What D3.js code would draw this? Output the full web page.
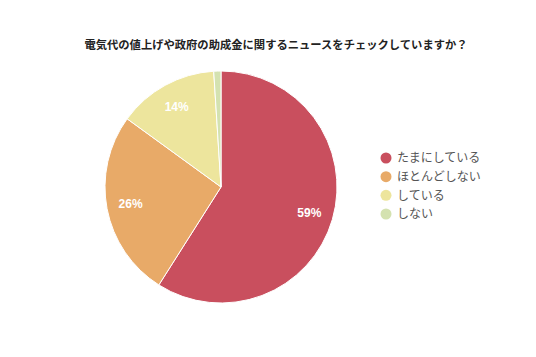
<!DOCTYPE html>
<html><head><meta charset="utf-8">
<script src="https://cdn.jsdelivr.net/npm/d3@7"></script>
<style>body{margin:0;background:#fff;}svg{display:block;font-family:"Noto Sans CJK JP","Noto Sans",sans-serif;}</style>
</head><body>
<svg id="c" width="536" height="357"></svg>
<script>
const categories = ["たまにしている","ほとんどしない","している","しない"];
const values = [59, 26, 14, 1];
const labels = ["59%","26%","14%",""];
const colors = ["#c94f5e","#e8aa68","#ede59d","#d4e2b0"];
const title = "電気代の値上げや政府の助成金に関するニュースをチェックしていますか？";

const svg = d3.select("#c");
svg.append("text").attr("x",276).attr("y",49).attr("text-anchor","middle")
  .attr("font-size",11.3).attr("font-weight","bold").attr("fill","#222").text(title);

const cx=221, cy=187, R=116;
const pie = d3.pie().sort(null).value(d=>d)(values);
const arc = d3.arc().innerRadius(0).outerRadius(R);
const lab = d3.arc().innerRadius(92).outerRadius(92);
const g = svg.append("g").attr("transform",`translate(${cx},${cy})`);
g.selectAll("path").data(pie).join("path").attr("d",arc)
  .attr("fill",(d,i)=>colors[i]).attr("stroke","#fff").attr("stroke-width",1);
g.selectAll("text").data(pie).join("text")
  .attr("transform",d=>`translate(${lab.centroid(d)})`)
  .attr("text-anchor","middle").attr("dy","0.35em")
  .attr("font-size",12).attr("font-weight","bold").attr("fill","#fff")
  .attr("font-family","Arial, 'Liberation Sans', sans-serif")
  .text((d,i)=>labels[i]);

const y = d3.scalePoint().domain(categories).range([158,214]);
const lg = svg.append("g");
lg.selectAll("circle").data(categories).join("circle")
  .attr("cx",386).attr("cy",d=>y(d)).attr("r",5.5).attr("fill",(d,i)=>colors[i]);
lg.selectAll("text").data(categories).join("text")
  .attr("x",397).attr("y",d=>y(d)).attr("dy","0.35em")
  .attr("font-size",12).attr("fill","#555").text(d=>d);
</script>
</body></html>
